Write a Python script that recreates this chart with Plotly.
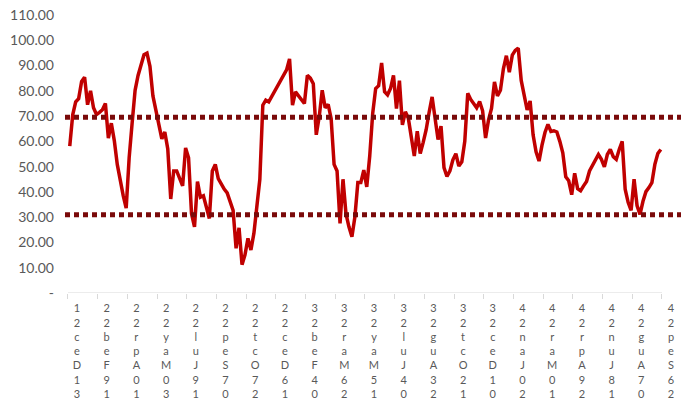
import pandas as pd
import plotly.graph_objects as go

# ---- data ----
series_start = "2022-01-03"
series_step_days = 5
values = [
    58.1, 70.5, 75.6, 76.9, 83.7, 85.4, 74.5, 80.0, 73.3, 70.6,
    71.5, 72.5, 75.0, 61.3, 67.2, 60.3, 50.9, 43.7, 38.5, 33.6,
    53.5, 67.2, 80.2, 86.1, 90.0, 94.3, 94.9, 89.7, 78.0, 72.0,
    65.9, 61.0, 63.7, 57.0, 37.2, 48.3, 48.3, 45.7, 42.4, 57.4,
    53.5, 31.4, 26.2, 44.1, 37.9, 38.5, 34.0, 29.5, 48.3, 50.9,
    45.3, 43.1, 41.1, 39.6, 35.9, 32.7, 17.7, 25.8, 11.2, 15.1,
    21.6, 17.0, 23.6, 33.3, 45.0, 74.3, 76.3, 75.6, 77.7, 79.6,
    81.8, 83.5, 85.8, 88.3, 92.6, 74.3, 79.6, 78.1, 76.4, 75.0,
    86.1, 85.0, 82.8, 62.6, 69.8, 80.2, 73.3, 74.6, 69.1, 50.9,
    48.3, 27.5, 45.0, 31.4, 26.2, 22.3, 30.1, 43.7, 43.7, 48.6,
    42.0, 54.2, 71.1, 80.9, 82.0, 91.0, 79.6, 78.4, 80.9, 86.1,
    73.0, 84.0, 66.5, 71.7, 69.1, 60.7, 54.2, 64.0, 55.2, 59.6,
    64.6, 71.5, 77.6, 69.1, 60.7, 66.0, 49.6, 46.1, 48.3, 52.7,
    55.1, 50.2, 51.9, 60.0, 79.0, 76.6, 75.1, 73.3, 75.8, 72.1,
    61.3, 68.5, 73.0, 83.5, 78.0, 80.2, 88.7, 93.9, 87.4, 94.1,
    96.0, 96.9, 84.1, 77.6, 72.4, 76.0, 62.6, 55.9, 52.2, 58.5,
    63.5, 66.7, 63.9, 64.2, 63.7, 60.0, 55.5, 46.0, 44.4, 38.9,
    47.4, 41.3, 40.5, 42.4, 44.1, 48.3, 50.3, 52.7, 54.8, 52.9,
    49.9, 54.8, 56.8, 53.9, 52.9, 56.8, 60.0, 41.1, 35.9, 32.7,
    45.0, 34.6, 31.1, 36.3, 40.1, 41.7, 43.7, 50.9, 55.2, 56.8,
]
upper_level = 69.5
lower_level = 31.0

tick_labels = [
    "31-Dec-21", "19-Feb-22", "10-Apr-22", "30-May-22", "19-Jul-22",
    "07-Sep-22", "27-Oct-22", "16-Dec-22", "04-Feb-23", "26-Mar-23",
    "15-May-23", "04-Jul-23", "23-Aug-23", "12-Oct-23", "01-Dec-23",
    "20-Jan-24", "10-Mar-24", "29-Apr-24", "18-Jun-24", "07-Aug-24",
    "26-Sep-24",
]
y_ticks = [0, 10, 20, 30, 40, 50, 60, 70, 80, 90, 100, 110]
x_range = ["2021-12-26", "2024-10-28"]

# ---- build ----
dates = pd.date_range(series_start, periods=len(values), freq=f"{series_step_days}D")
tick_dates = pd.to_datetime(tick_labels, format="%d-%b-%y")
tick_text = ["<br>".join(reversed(lbl.replace("-", ""))) for lbl in tick_labels]
y_text = ["-" if v == 0 else f"{v:.2f}" for v in y_ticks]

fig = go.Figure()
fig.add_trace(go.Scatter(x=dates, y=values, mode="lines",
                         line=dict(color="#C00000", width=3.5)))
for lvl in (upper_level, lower_level):
    fig.add_trace(go.Scatter(x=x_range, y=[lvl, lvl], mode="lines",
                             line=dict(color="#7A0A0A", width=5, dash="5px,4px")))

fig.add_shape(type="line", xref="x", yref="y",
              x0=tick_dates[0], x1=tick_dates[-1], y0=0, y1=0,
              line=dict(color="#D9D9D9", width=1), layer="below")

fig.update_layout(
    width=681, height=400,
    margin=dict(l=65, r=0, t=15, b=103),
    paper_bgcolor="white", plot_bgcolor="white",
    showlegend=False,
    font=dict(family="Lato", color="#595959"),
)
fig.update_xaxes(
    range=x_range, showgrid=False, zeroline=False, showline=False,
    tickmode="array", tickvals=tick_dates, ticktext=tick_text,
    ticks="outside", ticklen=5, tickcolor="#D9D9D9", tickwidth=1,
    tickangle=0, ticklabelshift=9,
    tickfont=dict(family="Lato", size=11, color="#595959"),
)
fig.update_yaxes(
    range=[0, 110], showgrid=False, zeroline=False, showline=False,
    tickmode="array", tickvals=y_ticks, ticktext=y_text,
    ticks="", ticklabelstandoff=10,
    tickfont=dict(family="Lato", size=14, color="#595959"),
)

fig.write_html("out.html")
